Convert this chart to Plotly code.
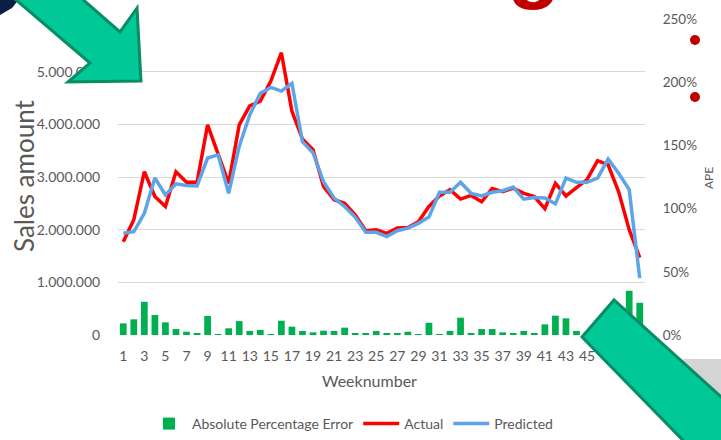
import plotly.graph_objects as go

# Weekly sales: actual vs. predicted, with absolute percentage error (APE)
weeks = list(range(1, 51))
actual = [1770000, 2190000, 3100000, 2630000, 2440000, 3100000, 2900000, 2900000, 3990000, 3450000,
          2880000, 3990000, 4350000, 4440000, 4820000, 5360000, 4250000, 3720000, 3520000, 2820000,
          2570000, 2500000, 2280000, 1980000, 2000000, 1930000, 2030000, 2040000, 2150000, 2440000,
          2640000, 2760000, 2580000, 2650000, 2530000, 2780000, 2720000, 2790000, 2690000, 2630000,
          2400000, 2880000, 2640000, 2800000, 2950000, 3310000, 3230000, 2720000, 2000000, 1470000]
predicted = [1930000, 1960000, 2310000, 2980000, 2660000, 2870000, 2840000, 2830000, 3360000, 3420000,
             2690000, 3580000, 4180000, 4590000, 4700000, 4630000, 4780000, 3670000, 3460000, 2910000,
             2600000, 2440000, 2240000, 1950000, 1950000, 1870000, 1980000, 2030000, 2120000, 2240000,
             2710000, 2710000, 2900000, 2690000, 2640000, 2710000, 2740000, 2810000, 2580000, 2610000,
             2600000, 2490000, 2980000, 2900000, 2900000, 2980000, 3340000, 3070000, 2760000, 1080000]
ape_pct = [9.2, 12.4, 26.3, 15.8, 10.0, 4.7, 2.6, 1.0, 15.0, 0.5,
           5.3, 11.0, 3.2, 4.0, 0.5, 11.3, 6.6, 3.2, 2.1, 3.4,
           3.2, 5.8, 1.0, 0.8, 3.2, 0.8, 0.8, 2.6, 0.3, 9.7,
           0.3, 3.2, 13.7, 0.8, 4.7, 4.7, 2.1, 1.3, 3.2, 0.8,
           8.4, 15.3, 13.2, 3.2, 2.0, 10.0, 3.5, 13.0, 35.0, 25.5]
week_ticks = list(range(1, 51, 2))
sales_ticks = [0, 1000000, 2000000, 3000000, 4000000, 5000000, 6000000]
sales_labels = ["0", "1.000.000", "2.000.000", "3.000.000", "4.000.000", "5.000.000", ""]

W, H = 721, 440
L, R, T, B = 118, 76, 19, 105
PW, PH = W - L - R, H - T - B

GRAY = "#595959"
FONT = "Lato"


def px(x, y):
    """Pixel position -> paper coordinates (for decorations only)."""
    return (x - L) / PW, (H - B - y) / PH


def path(points):
    parts = []
    for i, (x, y) in enumerate(points):
        a, b = px(x, y)
        parts.append(("M" if i == 0 else "L") + f"{a:.4f},{b:.4f}")
    return " ".join(parts) + " Z"


fig = go.Figure()
fig.add_trace(go.Bar(x=weeks, y=ape_pct, yaxis="y2", name="Absolute Percentage Error",
                     marker=dict(color="#00B050", line=dict(width=0))))
fig.add_trace(go.Scatter(x=weeks, y=actual, mode="lines", name="Actual",
                         line=dict(color="#FF0000", width=3.5)))
fig.add_trace(go.Scatter(x=weeks, y=predicted, mode="lines", name="Predicted",
                         line=dict(color="#5DA5E8", width=3.5)))

shapes = []
# slide decorations around the chart
shapes.append(dict(type="path", xref="paper", yref="paper", layer="above",
                   path=path([(0, -2), (20, -2), (12, 8), (0, 15)]),
                   fillcolor="#0B1E44", line=dict(width=0)))
shapes.append(dict(type="rect", xref="paper", yref="paper", layer="above",
                   x0=px(683, 0)[0], x1=px(725, 0)[0], y0=px(0, 445)[1], y1=px(0, 359)[1],
                   fillcolor="#D4D4D4", line=dict(width=0)))
for cy in (40, 97):
    a0, b0 = px(690, cy + 5)
    a1, b1 = px(700, cy - 5)
    shapes.append(dict(type="circle", xref="paper", yref="paper", layer="above",
                       x0=a0, x1=a1, y0=b0, y1=b1, fillcolor="#C00000", line=dict(width=0)))
arrow_fill, arrow_edge = "#00C896", "#0A8C64"
shapes.append(dict(type="path", xref="paper", yref="paper", layer="above",
                   path=path([(72, -10), (120, 32), (137, 8), (141, 81), (68, 82), (90, 63), (2, -12)]),
                   fillcolor=arrow_fill, line=dict(color=arrow_edge, width=3)))
shapes.append(dict(type="path", xref="paper", yref="paper", layer="above",
                   path=path([(582, 337), (614, 300), (740, 414), (740, 470), (712, 470)]),
                   fillcolor=arrow_fill, line=dict(color=arrow_edge, width=3)))

annotations = [
    dict(text="Sales amount", x=px(24, 0)[0], y=px(0, 176)[1], xref="paper", yref="paper",
         xanchor="center", yanchor="middle",
         textangle=-90, showarrow=False, font=dict(family=FONT, size=26, color=GRAY)),
    dict(text="Weeknumber", x=px(369, 0)[0], y=px(0, 380)[1], xref="paper", yref="paper",
         xanchor="center", yanchor="middle",
         showarrow=False, font=dict(family=FONT, size=16, color=GRAY)),
    dict(text="APE", x=px(708, 0)[0], y=px(0, 178)[1], xref="paper", yref="paper",
         xanchor="center", yanchor="middle",
         textangle=-90, showarrow=False, font=dict(family=FONT, size=12, color=GRAY)),
    dict(text="<b>g</b>", x=px(534, 0)[0], y=px(0, 13)[1], xref="paper", yref="paper",
         xanchor="center", yanchor="bottom", showarrow=False,
         font=dict(family="Liberation Sans", size=88, color="#C00000")),
]

fig.update_layout(
    width=W, height=H,
    margin=dict(l=L, r=R, t=T, b=B, pad=0),
    paper_bgcolor="white", plot_bgcolor="white",
    separators=",.",
    font=dict(family=FONT, color=GRAY, size=13),
    bargap=0.36,
    showlegend=True,
    legend=dict(orientation="h", xref="container", yref="container",
                x=146 / W, xanchor="left", y=(H - 424) / H, yanchor="middle",
                font=dict(family=FONT, size=14, color=GRAY),
                itemwidth=36, traceorder="normal", bgcolor="rgba(0,0,0,0)"),
    xaxis=dict(range=[0.5, 50.5], tickmode="array", tickvals=week_ticks,
               showgrid=False, zeroline=False, showline=False,
               ticks="outside", ticklen=8, tickcolor="rgba(0,0,0,0)",
               tickfont=dict(family=FONT, size=14, color=GRAY)),
    yaxis=dict(range=[0, 6000000], tickmode="array", tickvals=sales_ticks, ticktext=sales_labels,
               showgrid=True, gridcolor="#D9D9D9", gridwidth=1, zeroline=False,
               ticks="outside", ticklen=14, tickcolor="rgba(0,0,0,0)",
               tickfont=dict(family=FONT, size=14, color=GRAY)),
    yaxis2=dict(range=[0, 250], dtick=50, ticksuffix="%", overlaying="y", side="right",
                showgrid=False, zeroline=False,
                ticks="outside", ticklen=14, tickcolor="rgba(0,0,0,0)",
                tickfont=dict(family=FONT, size=13.5, color=GRAY)),
    shapes=shapes,
    annotations=annotations,
)

fig.write_html("out.html")
